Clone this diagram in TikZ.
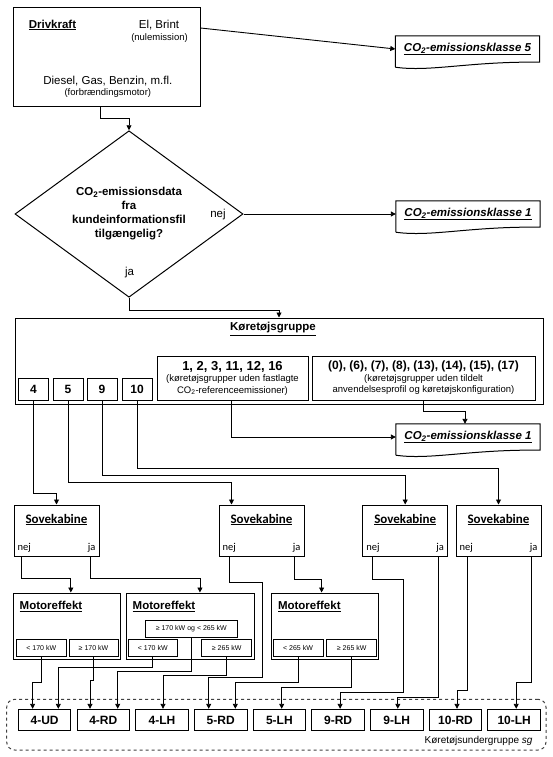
\documentclass[tikz,border=0pt]{standalone}
\usepackage{fontspec}
\setmainfont{Liberation Sans}
\newfontfamily\calfont{Carlito}
\usepackage{tikz}
\usetikzlibrary{shapes.geometric, arrows.meta, positioning, calc}

\newcommand{\fnorm}{\fontsize{11.5}{13}\selectfont}
\newcommand{\fdia}{\fontsize{11.5}{14}\selectfont}
\newcommand{\fsmall}{\fontsize{9.5}{11.5}\selectfont}
\newcommand{\ftiny}{\fontsize{7}{8}\selectfont}
\newcommand{\fnum}{\fontsize{12}{14}\selectfont}
\newcommand{\coemi}[1]{\underline{CO\textsubscript{2}-emissionsklasse #1}}
% outline of a document box with a wavy lower edge
\newcommand{\docoutline}[1]{%
  \draw[boxline] ($(#1.south west)+(0,5)$) -- (#1.north west) -- (#1.north east) -- (#1.south east)
    .. controls ($(#1.south west)!0.52!(#1.south east)+(0,-1)$) and ($(#1.south west)!0.24!(#1.south east)+(0,10)$) .. ($(#1.south west)+(0,5)$);}

\begin{document}
\begin{tikzpicture}[x=1pt, y=-1pt,
    box/.style={rectangle, draw, line width=1pt, inner sep=0pt},
    boxline/.style={line width=1pt},
    doc/.style={rectangle, inner sep=0pt, minimum width=144pt, minimum height=26pt, font=\fnorm\bfseries\itshape},
    numbox/.style={box, minimum width=30pt, minimum height=22pt, font=\fnum\bfseries},
    kw/.style={box, line width=0.8pt, minimum height=17.7pt, font=\ftiny},
    sov/.style={box, minimum width=85pt, minimum height=51pt},
    sovtitle/.style={font=\calfont\fontsize{13}{15}\selectfont\bfseries},
    yesno/.style={font=\calfont\fontsize{10.5}{12}\selectfont, inner sep=0pt},
    motor/.style={box, minimum height=66pt},
    mottitle/.style={font=\fnorm\bfseries, inner sep=0pt, anchor=west},
    sub/.style={box, minimum width=52.6pt, minimum height=21.4pt, font=\fnum\bfseries},
    arrow/.style={-{Triangle[length=5pt,width=5pt]}, line width=0.9pt}
]
    \useasboundingbox (0,0) rectangle (552,757);

    % Drivkraft
    \node[box, minimum width=187pt, minimum height=99pt] (drive) at (106.5,57.5) {};
    \node[font=\fnorm\bfseries] (drivlbl) at (52.5,25) {\underline{Drivkraft}};
    \node[font=\fnorm] (elbrint) at (159,25) {El, Brint};
    \node[font=\fsmall] (nulem) at (159.5,37.7) {(nulemission)};
    \node[font=\fnorm] (fossil) at (107.8,80.7) {Diesel, Gas, Benzin, m.fl.};
    \node[font=\fsmall] (forbr) at (107.8,92.7) {(forbrændingsmotor)};

    \node[doc] (kl5) at (467.5,49) {\coemi{5}};
    \docoutline{kl5}
    \draw[arrow] (drive.east |- 0,28) -- (kl5.west);

    % Kundeinformationsfil
    \node[diamond, draw, line width=1pt, minimum width=228pt, minimum height=158pt, inner sep=0pt,
          align=center, font=\fdia\bfseries] (avail) at (129,214)
          {CO\textsubscript{2}-emissionsdata\\fra\\kundeinformationsfil\\tilgængelig?};
    \draw[arrow] ([xshift=-6.5pt]drive.south) -- ++(0,11) -| (avail.north);
    \node[font=\fnorm] (nej0) at (218,214.6) {nej};
    \node[font=\fnorm] (ja0) at (129.6,272.7) {ja};

    \node[doc] (kl1a) at (468,214) {\coemi{1}};
    \docoutline{kl1a}
    \draw[arrow] (avail.east) -- (kl1a.west);

    % Koeretoejsgruppe
    \node[box, minimum width=528pt, minimum height=86pt] (grp) at (279,361) {};
    \draw[arrow] (avail.south) -- ++(0,13) -| (grp.north);
    \node[font=\fnorm\bfseries] (grplbl) at (273,329) {\underline{Køretøjsgruppe}};
    \node[numbox] (g4) at (33.5,389) {4};
    \node[numbox] (g5) at (68,389) {5};
    \node[numbox] (g9) at (102,389) {9};
    \node[numbox] (g10) at (137,389) {10};
    \node[box, minimum width=151pt, minimum height=44pt, align=center, font=\fsmall] (gA) at (232.5,378)
          {{\fontsize{13}{15}\selectfont\bfseries 1, 2, 3, 11, 12, 16}\\(køretøjsgrupper uden fastlagte\\CO\textsubscript{2}-referenceemissioner)};
    \node[box, minimum width=223pt, minimum height=44pt, align=center, font=\fsmall] (gB) at (423.5,378)
          {{\fontsize{12}{14}\selectfont\bfseries (0), (6), (7), (8), (13), (14), (15), (17)}\\(køretøjsgrupper uden tildelt\\anvendelsesprofil og køretøjskonfiguration)};

    \node[doc] (kl1b) at (468,437) {\coemi{1}};
    \docoutline{kl1b}
    \draw[arrow] ([xshift=-1.5pt]gA.south) |- (kl1b.west);
    \draw[arrow] (gB.south) -- ++(0,11) -| ([xshift=-3pt]kl1b.north);

    % Sovekabine
    \node[sov] (sov1) at (56.5,530.5) {};
    \node[sov] (sov2) at (261.5,530.5) {};
    \node[sov] (sov3) at (405.2,530.5) {};
    \node[sov] (sov4) at (498.5,530.5) {};
    \node[sovtitle] (sov1t) at ($(sov1.north)+(0,15)$) {\underline{Sovekabine}};
    \node[sovtitle] (sov2t) at ($(sov2.north)+(0,15)$) {\underline{Sovekabine}};
    \node[sovtitle] (sov3t) at ($(sov3.north)+(0,15)$) {\underline{Sovekabine}};
    \node[sovtitle] (sov4t) at ($(sov4.north)+(0,15)$) {\underline{Sovekabine}};
    \node[yesno, anchor=west] (sov1n) at ($(sov1.south west)+(4,-9)$) {nej};
    \node[yesno, anchor=east] (sov1j) at ($(sov1.south east)+(-4,-9)$) {ja};
    \node[yesno, anchor=west] (sov2n) at ($(sov2.south west)+(4,-9)$) {nej};
    \node[yesno, anchor=east] (sov2j) at ($(sov2.south east)+(-4,-9)$) {ja};
    \node[yesno, anchor=west] (sov3n) at ($(sov3.south west)+(4,-9)$) {nej};
    \node[yesno, anchor=east] (sov3j) at ($(sov3.south east)+(-4,-9)$) {ja};
    \node[yesno, anchor=west] (sov4n) at ($(sov4.south west)+(4,-9)$) {nej};
    \node[yesno, anchor=east] (sov4j) at ($(sov4.south east)+(-4,-9)$) {ja};

    \draw[arrow] (g4.south) -- ++(0,93) -| (sov1.north);
    \draw[arrow] (g5.south) -- ++(0,82) -| ([xshift=-30pt]sov2.north);
    \draw[arrow] (g9.south) -- ++(0,75) -| (sov3.north);
    \draw[arrow] (g10.south) -- ++(0,68) -| (sov4.north);

    % Motoreffekt
    \node[motor, minimum width=107.7pt] (mot1) at (66.85,626) {};
    \node[motor, minimum width=127.3pt] (mot2) at (190.35,626) {};
    \node[motor, minimum width=106.8pt] (mot3) at (325.1,626) {};
    \node[mottitle] (mot1t) at ($(mot1.north west)+(7,14)$) {\underline{Motoreffekt}};
    \node[mottitle] (mot2t) at ($(mot2.north west)+(6.3,14)$) {\underline{Motoreffekt}};
    \node[mottitle] (mot3t) at ($(mot3.north west)+(6.6,14)$) {\underline{Motoreffekt}};
    \node[kw, minimum width=50.7pt] (m1a) at (41.3,647.8) {< 170 kW};
    \node[kw, minimum width=49pt] (m1b) at (93.5,647.8) {≥ 170 kW};
    \node[kw, minimum width=91.3pt] (m2c) at (191.3,628.8) {≥ 170 kW og < 265 kW};
    \node[kw, minimum width=49.7pt] (m2a) at (152.8,647.8) {< 170 kW};
    \node[kw, minimum width=50pt] (m2b) at (226.7,647.8) {≥ 265 kW};
    \node[kw, minimum width=50pt] (m3a) at (298,647.8) {< 265 kW};
    \node[kw, minimum width=50pt] (m3b) at (351.7,647.8) {≥ 265 kW};

    \draw[arrow] ($(sov1.south west)+(8,0)$) -- ++(0,22) -| ([xshift=4pt]mot1.north);
    \draw[arrow] ($(sov1.south east)+(-9,0)$) -- ++(0,22) -| ([xshift=9.6pt]mot2.north);
    \draw[arrow] ($(sov2.south east)+(-10,0)$) -- ++(0,23) -| ([xshift=-3.5pt]mot3.north);

    % Koeretoejsundergruppe
    \node[draw, dashed, line width=1pt, black!75, rounded corners=8pt, minimum width=539.3pt, minimum height=50.7pt] (sgbox) at (276.35,724.65) {};
    \node[sub] (ud4) at (44.6,720) {4-UD};
    \node[sub, right=5.1pt of ud4] (rd4) {4-RD};
    \node[sub, right=5.1pt of rd4] (lh4) {4-LH};
    \node[sub, right=5.1pt of lh4] (rd5) {5-RD};
    \node[sub, right=5.1pt of rd5] (lh5) {5-LH};
    \node[sub, right=5.1pt of lh5] (rd9) {9-RD};
    \node[sub, right=5.1pt of rd9] (lh9) {9-LH};
    \node[sub, right=5.1pt of lh9] (rd10) {10-RD};
    \node[sub, right=5.1pt of rd10] (lh10) {10-LH};
    \node[font=\fontsize{10}{12}\selectfont, anchor=east] (sglbl) at (536,741) {Køretøjsundergruppe \textit{sg}};

    \draw[arrow] (m1a.south) -- ++(0,25) -| ([xshift=-12pt]ud4.north);
    \draw[arrow] (m1b.south) -- ++(0,23.3) -| ([xshift=-13.3pt]rd4.north);
    \draw[arrow] (m2a.south) -- ++(0,10.3) -| ([xshift=13.7pt]ud4.north);
    \draw[arrow] (m2c.south) -- ++(0,33) -| ([xshift=14.4pt]rd4.north);
    \draw[arrow] (m2b.south) -- ++(0,18.3) -| ([xshift=1pt]lh4.north);
    \draw[arrow] ($(sov2.south west)+(11,0)$) -- ++(0,26) -| ++(33,95) -| ([xshift=-12pt]rd5.north);
    \draw[arrow] (m3a.south) -- ++(0,25.8) -| ([xshift=14.6pt]rd5.north);
    \draw[arrow] (m3b.south) -- ++(0,30) -| ([xshift=2.3pt]lh5.north);
    \draw[arrow] ($(sov3.south west)+(10,0)$) -- ++(0,23) -| ++(31,112.7) -| ([xshift=2pt]rd9.north);
    \draw[arrow] ($(sov3.south east)+(-10,0)$) -- ++(0,140.7) -| ([xshift=1pt]lh9.north);
    \draw[arrow] ($(sov4.south west)+(11.7,0)$) -- ++(0,134) -| ([xshift=1.5pt]rd10.north);
    \draw[arrow] ($(sov4.south east)+(-10,0)$) -- ++(0,125.7) -| ([xshift=2pt]lh10.north);

\end{tikzpicture}
\end{document}
